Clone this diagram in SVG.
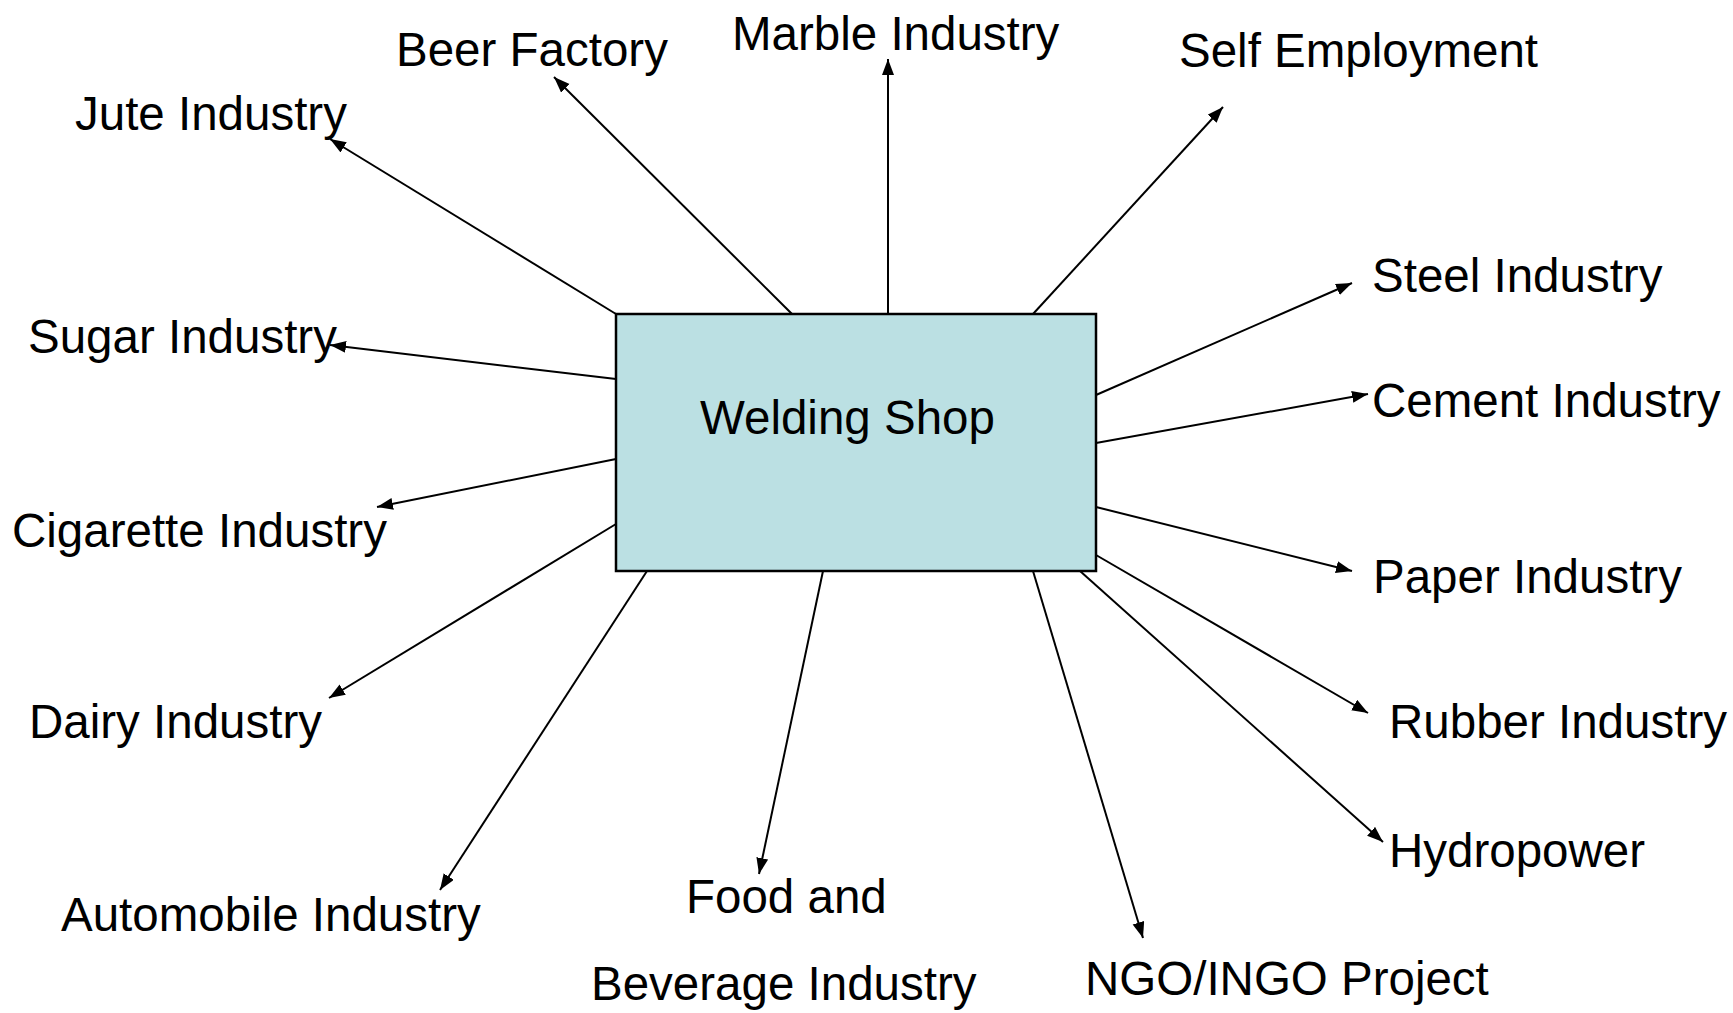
<svg xmlns="http://www.w3.org/2000/svg" width="1733" height="1013" viewBox="0 0 1733 1013">
<style>
text{font-family:"Liberation Sans",Arial,sans-serif;font-size:47.5px;fill:#000}
.c line{stroke:#000;stroke-width:2;marker-end:url(#ah)}
</style>
<defs>
<marker id="ah" markerUnits="userSpaceOnUse" markerWidth="18" markerHeight="14" refX="16" refY="6" orient="auto">
<path d="M0,0 L16,6 L0,12 Z" fill="#000"/>
</marker>
</defs>
<rect width="1733" height="1013" fill="#fff"/>
<g id="center">
<rect x="616" y="314" width="480" height="257" fill="#BBE0E3" stroke="#000" stroke-width="2.5"/>
<text x="700" y="434">Welding Shop</text>
</g>
<g class="c" id="connectors">
<line x1="616" y1="314" x2="330" y2="139"/>
<line x1="792" y1="314" x2="554" y2="77"/>
<line x1="888" y1="314" x2="888" y2="59"/>
<line x1="1033" y1="314" x2="1223" y2="107"/>
<line x1="1096" y1="395" x2="1352" y2="283"/>
<line x1="1096" y1="443" x2="1368" y2="394"/>
<line x1="1096" y1="507" x2="1352" y2="571"/>
<line x1="1096" y1="555" x2="1368" y2="713"/>
<line x1="1080" y1="571" x2="1383" y2="842"/>
<line x1="1033" y1="571" x2="1143" y2="938"/>
<line x1="823" y1="571" x2="759" y2="874"/>
<line x1="647" y1="571" x2="440" y2="890"/>
<line x1="616" y1="524" x2="329" y2="698"/>
<line x1="616" y1="459" x2="377" y2="507"/>
<line x1="616" y1="379" x2="330" y2="345"/>
</g>
<g id="n-beer"><text x="396" y="66">Beer Factory</text></g>
<g id="n-marble"><text x="732" y="50">Marble Industry</text></g>
<g id="n-self"><text x="1179" y="67">Self Employment</text></g>
<g id="n-jute"><text x="75" y="130">Jute Industry</text></g>
<g id="n-steel"><text x="1372" y="292">Steel Industry</text></g>
<g id="n-sugar"><text x="28" y="353">Sugar Industry</text></g>
<g id="n-cement"><text x="1372" y="417">Cement Industry</text></g>
<g id="n-cigarette"><text x="12" y="547">Cigarette Industry</text></g>
<g id="n-paper"><text x="1373" y="593">Paper Industry</text></g>
<g id="n-dairy"><text x="29" y="738">Dairy Industry</text></g>
<g id="n-rubber"><text x="1389" y="738">Rubber Industry</text></g>
<g id="n-hydro"><text x="1389" y="867">Hydropower</text></g>
<g id="n-auto"><text x="61" y="931">Automobile Industry</text></g>
<g id="n-food"><text x="686" y="913">Food and</text><text x="591" y="1000">Beverage Industry</text></g>
<g id="n-ngo"><text x="1085" y="995">NGO/INGO Project</text></g>
</svg>
